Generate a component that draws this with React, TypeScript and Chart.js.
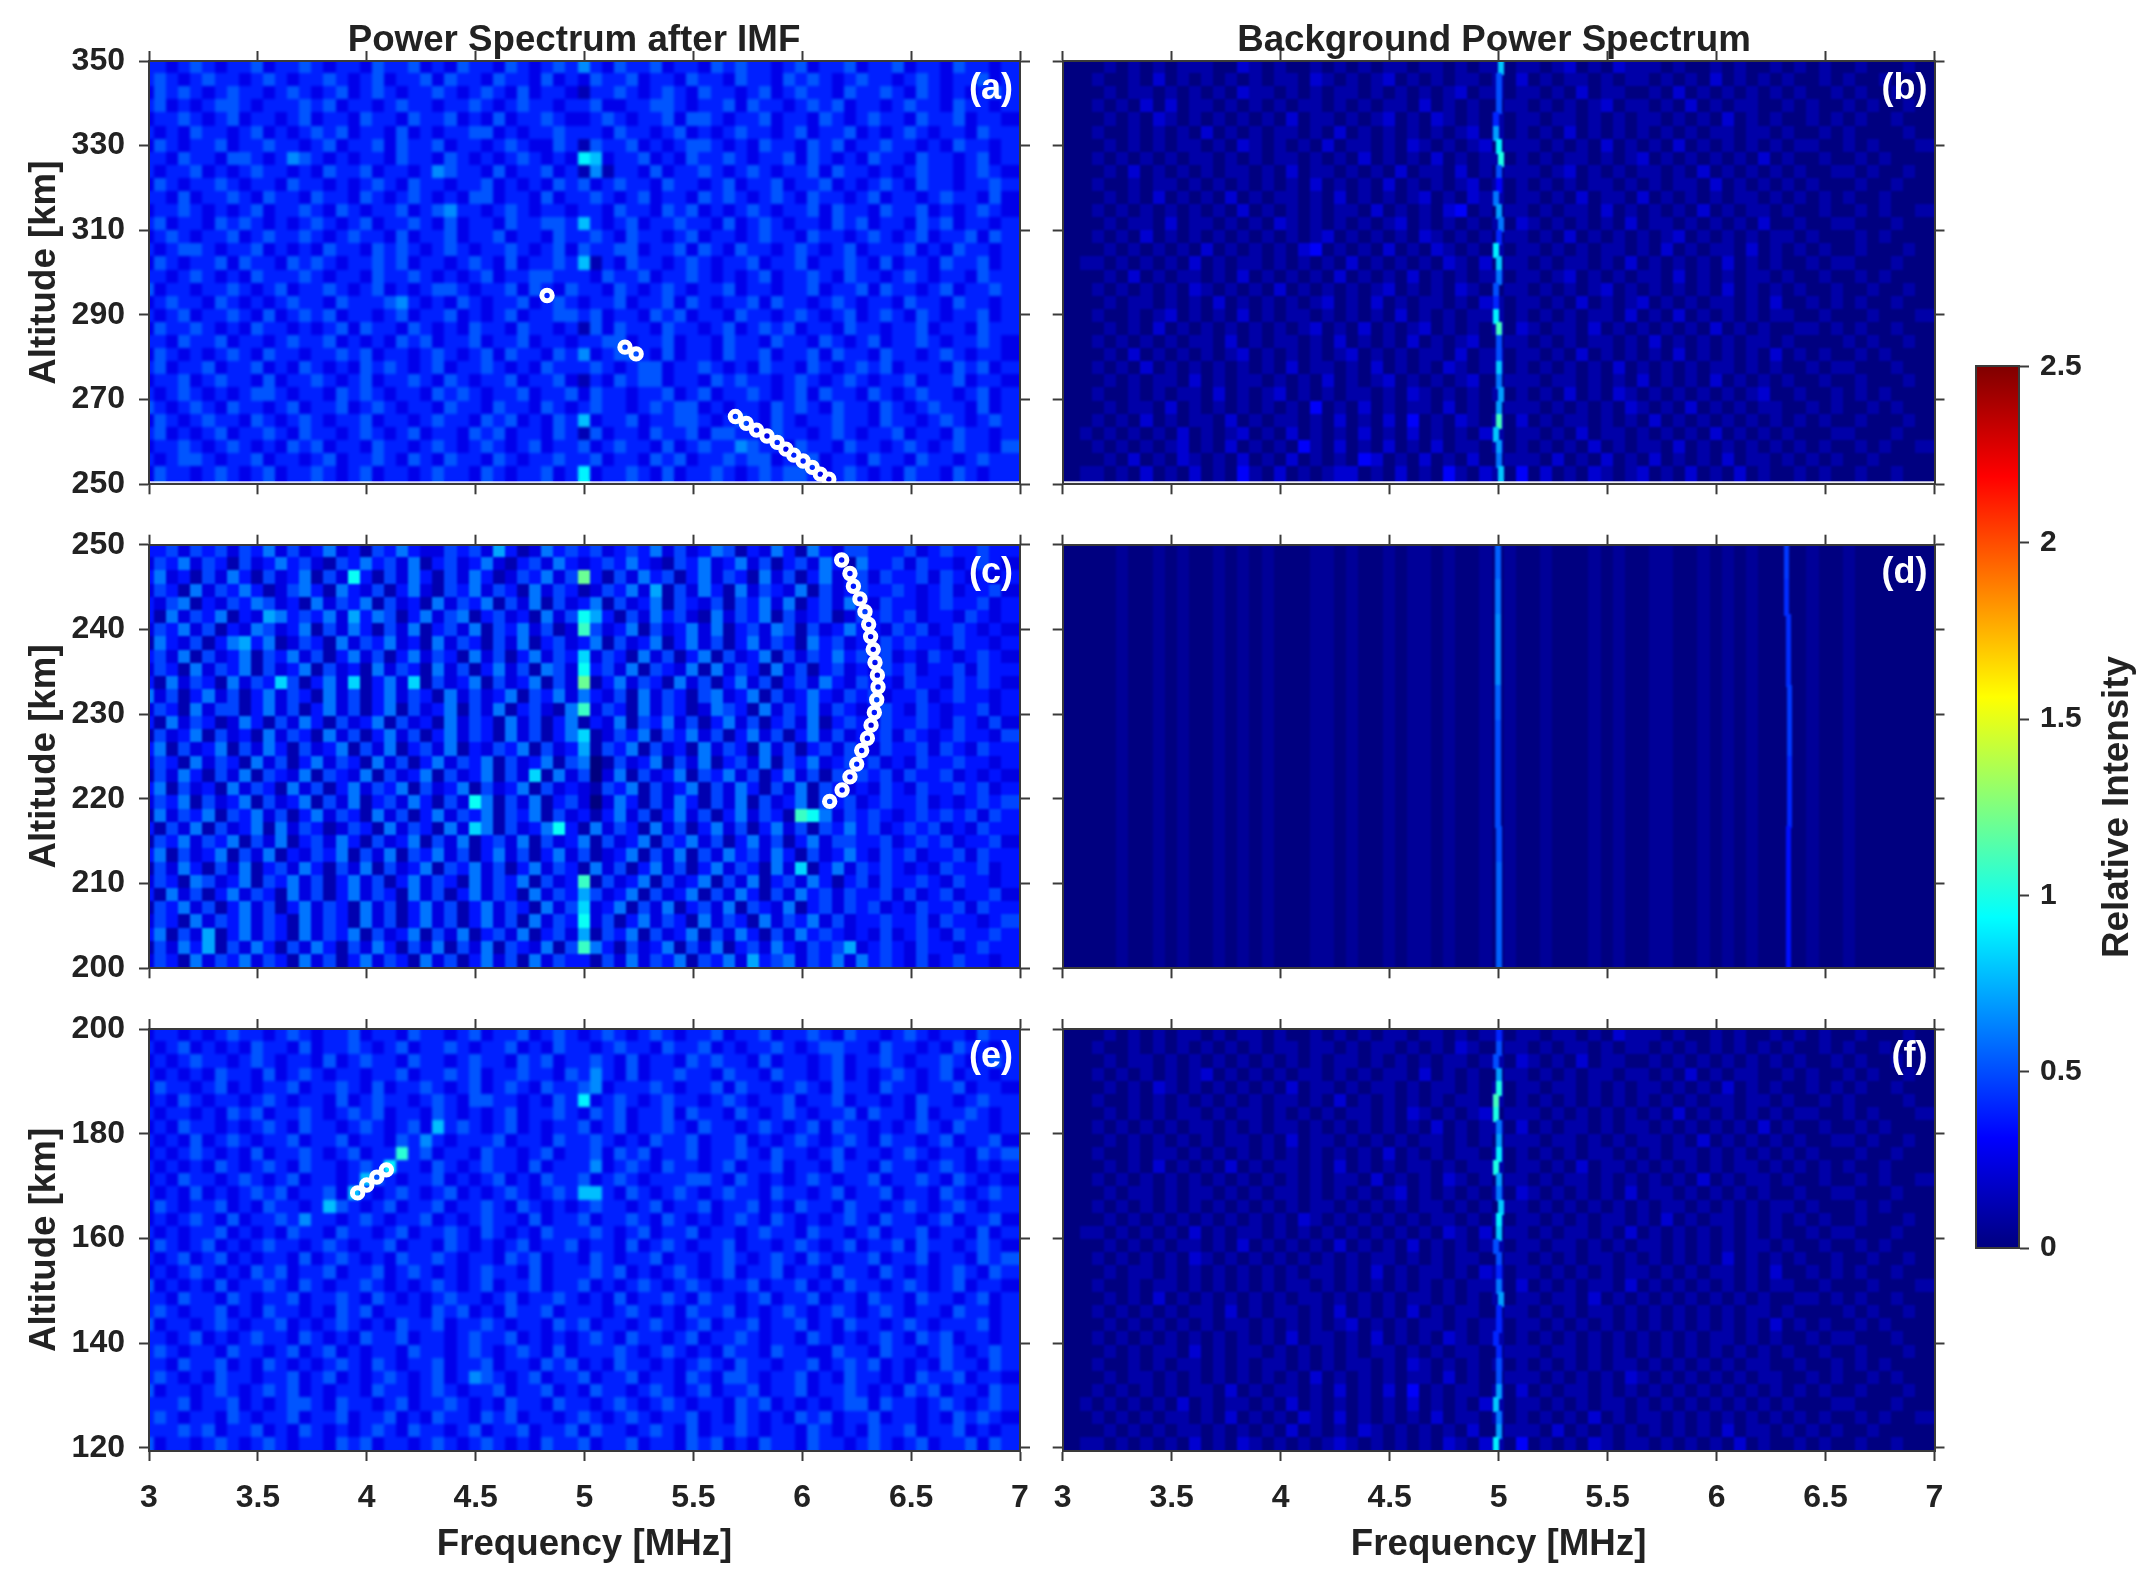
import { useEffect, useRef } from "react";
import { Chart, registerables } from "chart.js";

Chart.register(...registerables);

// axis ticks
const freqTicks = [3, 3.5, 4, 4.5, 5, 5.5, 6, 6.5, 7];
const altTicksTop = [250, 270, 290, 310, 330, 350];
const altTicksMid = [200, 210, 220, 230, 240, 250];
const altTicksLow = [120, 140, 160, 180, 200];
const intensityTicks = [0, 0.5, 1, 1.5, 2, 2.5];

// one hex digit per cell, tenths of relative intensity (a = 1.0, f = 1.5)
const panelARows = [
  "332343233423 343233243342 324332432343 532433423324 343323423342 334233243323",
  "343234332343 233432342334 243324332423 243342332433 243324343234 332343233423",
  "243432343323 432342343233 432343242332 133432343243 323423433243 343243232343",
  "342323443233 343423323433 233432343323 342233443233 424332343423 323433243323",
  "233432342332 342332433243 342324233432 234323342443 233423324323 433243342332",
  "323243323423 234342332423 233442323343 332433234232 343323423342 323432332433",
  "243233423343 323423342433 423323432243 143342323443 232433243423 343323243323",
  "332433244323 543232332433 243232343232 762334232433 432334243232 433243323423",
  "323342323433 232433423323 543324233423 151332423343 234323342433 232343323432",
  "243233432332 433232343243 323342323243 423433243323 423342334232 343243323343",
  "332423343243 324332432343 232442332423 343234233243 432343243323 423323433242",
  "233432323423 343243233423 453323432332 332433243423 234323342433 243342323432",
  "342332434323 234323423343 242332433443 632342334332 423432332434 233243423323",
  "234323342343 343234332423 342334233243 343243323423 323433243323 432342334243",
  "323443233423 232433243432 343233432342 433442334243 243323432342 333423243323",
  "243233424332 434323343423 323432423343 613243323432 334233423343 242332433423",
  "332343232433 343233243343 232342334433 324334233432 323423343243 323432332433",
  "423323343234 233432342323 443233424324 332432343233 423323342334 243323423343",
  "234332432323 433243334532 324323342343 233423342432 334243323432 332433243323",
  "323423343242 343423323423 342323423344 342332434233 243323432342 343243233423",
  "243343232433 232342433243 232433243323 142433243323 423434233243 323342332433",
  "332433423323 433423232434 233423342332 334423342332 433243324323 423343233432",
  "243232343243 323343423323 432342433243 523443242332 433423342433 243323432332",
  "342334233423 243232434323 423343232433 343234423343 232433243234 342333243423",
  "233423433242 334323423343 243233423342 132434423324 343323432343 233423342332",
  "323432323443 233243432332 434323342334 243323342342 334323424332 432343323423",
  "432343243323 423342343233 243324332432 343323434423 233243432433 243234332423",
  "243234332432 343233423323 433243423243 623342334432 343243233433 243323432343",
  "342323423343 243323432342 332434233243 142332433424 433243323432 334233243323",
  "233432343232 434233243323 432343234233 423433242343 354332433243 323432343324",
  "323443233423 323423343243 243324323343 342332434233 434423342332 433243323433",
  "243323432342 334323423323 433243233423 723343242334 323434432343 232433243233",
];

const panelCRows = [
  "334243424352 423523143532 243426312534 342343524235 413253153244 333423433433",
  "243524314235 342143534251 342352134253 234353214352 352413425315 334243323432",
  "352314253142 351428314253 142531243524 a31425341352 431524135234 243342432323",
  "243152435312 453153241352 143524315243 124352614253 152432514234 334323423342",
  "324513243542 315243514231 524351425142 351423514324 143525134253 243323433423",
  "315243513265 343526354135 245134231524 863142534215 243514234124 343423324323",
  "243524132542 351425314251 342514352412 942351423525 134254142353 324342343232",
  "153241356351 243152435231 524314251342 351423513524 135243153423 243433243323",
  "342514235143 524135241352 431524135243 724315241351 423514243534 342324323432",
  "243152435142 351423152431 524135241542 834251432515 243152413423 243423342433",
  "315243152437 413527135271 423514235142 a13524315241 352413425324 332433243432",
  "524135241352 431524135243 152423514352 532415243145 235142353243 423342343323",
  "243152441352 413524135142 351425134215 924315243125 431524352432 343243233423",
  "315243125314 253142351423 152431524135 132514352413 524134251343 243343243242",
  "142351423152 431524135241 352431524135 712435143524 135241352423 342432343324",
  "351423514253 142351425134 251324351423 614351423152 431524134243 243342432433",
  "243152431524 135243152413 524351423514 501423514251 342514352343 423243343323",
  "142531425143 251432514235 142351427152 402514235143 524135241434 342433423232",
  "351423152431 524135243514 235142351423 214351423514 253142514323 243243343423",
  "243514235142 351425134253 142851425134 202531425314 251423514342 343342323434",
  "152435143524 135243152413 524351435142 313524135241 352431985243 432343434243",
  "314251423515 243124315243 152751423583 152431524135 241352414353 423434232433",
  "143524351425 134253142351 425134251423 514235143524 135241352443 342343423342",
  "351423514251 324351425143 524135241352 412351425142 534253142353 243423342433",
  "142531425134 253142514235 143524135243 152413524135 243152713524 343232433423",
  "243154235143 524135241352 431524351423 914235142351 425134253134 243343243323",
  "315241352431 524135243152 413524315243 642351423514 253142534243 342423423342",
  "143524135241 352431524135 241352431524 723514251342 514325134243 423243342433",
  "243152435243 152431524135 241352415243 824135243152 431524352423 343342433234",
  "351426135243 152435142351 425134251342 614351423514 253142534323 242343243343",
  "142536142531 425314253142 514251432514 953142351425 134253243462 343243323433",
  "243152435243 152413524315 241352415243 314252435143 526345243525 343242343323",
];

const panelERows = [
  "233232343323 432334233243 323423342343 234323432334 233423343243 323432332433",
  "323423232433 242334323423 343233423243 323433243342 323343234433 243323243323",
  "232343323432 332423433243 323433243423 343242332434 332423323423 343233432343",
  "323232433242 343233233423 343423343324 353242334332 433243323423 234323423323",
  "243323423233 423343242334 323423432433 452333432334 243323432433 243323342332",
  "232432332343 233242343323 432443323243 723432343323 432334233423 323243323433",
  "323323243423 343234342332 432323423343 243423342433 243234323342 433242334323",
  "232433232343 243323432342 634323423233 423423343243 323432342433 232343243323",
  "323242343233 423342332435 323334233243 343232433423 342323432343 243323423342",
  "232343232423 343234233834 233243323423 342434233423 343243323423 323432332434",
  "323232432343 243323437332 432343324233 352343243323 423342332433 243323432323",
  "232433234323 423323643233 423234232433 423432333443 243232343233 423343243232",
  "323242323434 233426323432 342323432343 663243234323 433243323423 342332432343",
  "243233423243 323643234233 423343243232 343323423342 334232433243 323432343233",
  "232343242334 353323432334 232343324233 423343243232 343243232343 243323423342",
  "323233423232 433243323423 343243232433 343234233423 323433243323 423342332423",
  "243234232343 323432334233 243232342334 233242343233 423323432342 334243323432",
  "323423423233 242343232433 432332434233 243233423323 432343243233 423342332434",
  "232343232434 233423342343 232343324233 343423234323 423342332433 243232343243",
  "423232423343 243233432323 432342334233 423234323432 334233423243 323432342332",
  "332433243233 423343243232 343323423343 232423343243 323423342332 433243323423",
  "343233423243 323243423332 434232433423 332343232433 423234323432 343233243323",
  "423323432334 232343232433 423343233243 423323432342 334233423243 323432333423",
  "332342323433 243232433423 323433423232 343243323423 343233243232 343243423323",
  "343233243323 423423233243 323432343242 333432343232 433243322433 243323432343",
  "332433423243 232343243233 423342332434 232433232343 243323342343 423232433243",
  "343232433233 423423234323 423543234233 423342332432 443233423243 323243342332",
  "423323432343 423233243323 432334233423 243323432342 334233423343 232434233243",
  "333423342323 443243323423 343232433243 323432343233 243423232344 243323432343",
  "343233243233 423342334232 433243423323 432343233423 243232434233 423323243432",
  "333434233423 243232343243 323423342334 243323432423 343233243232 433423342323",
  "423323432343 233243423323 432343232433 423342332434 232433243323 432342334243",
];

const panelBRows = [
  "000010101011 100210100101 010110110101 101101201021 110100101001 010100100010",
  "000100102010 101010110210 101201010110 102010110101 101010201010 100101001000",
  "000010110101 010211010101 101010101201 101101020110 010201010101 010010100100",
  "000101020201 101010101101 010110201010 011010101201 101020101100 101001010010",
  "000010102101 010101020110 101201021010 101101101010 110101020101 001010100100",
  "000100101010 201010110102 010101010120 101010201010 101010110110 100101000010",
  "000010101011 010210101020 110102101012 011101010201 010201010101 011001010001",
  "000101010101 101010110101 020101020101 101010110101 201010101020 100100101000",
  "000010201010 101101020110 101020110201 011101201010 110102010101 010011010010",
  "000100101101 010101010201 010201010120 101010101101 010110201010 101000100100",
  "000010102010 102010110102 010101201021 101101020110 201010101101 010101001000",
  "000101010101 010201010101 102010102301 011010110201 010102010110 100100101001",
  "000010110201 101010210101 010120101010 102101010102 011010101020 010011000100",
  "000101020101 010101010120 101010210101 011010201010 101201010101 101000101000",
  "000010101010 201010102301 010201021010 101101010110 102010110201 010100100010",
  "001101010102 010110101010 201010102102 011010110102 010101020101 001011000100",
  "000010201011 010201010102 010102010101 101101201010 110201010110 100100101000",
  "000101010102 101010201010 101201010210 011010101201 010101020101 010010010010",
  "000010110101 020101010120 102010110102 101101020101 201010110102 001010100100",
  "000100101201 010201011010 101020101011 101010101102 010201010101 100100010001",
  "000010102010 101010101201 020101201010 102101102010 101010201010 011010100100",
  "000101010101 102010110102 010102010120 011010101101 020101010110 100001010010",
  "000010201010 101201010101 201010110201 101101020101 010201010102 010100101000",
  "000101020101 010101020110 102010102101 101010101020 101010110101 001011000100",
  "000010101102 010110101020 101201010120 011101101010 201010201010 100100100010",
  "000100101011 020101201010 110102101010 101010201021 010101010120 010010101000",
  "000010110201 010101010301 020101102010 011101010102 101020101011 001010010100",
  "000101020101 102010110102 010203010210 102010110101 020101010101 010100100010",
  "001010101020 101201020101 020102010102 101101020110 101010201010 100011000100",
  "000101010120 102010103102 010201020110 101010102010 110201010101 010100101001",
  "000010201021 010201020101 032010201020 011102010201 020101020110 101010010000",
  "001101020102 010310201012 201020103102 103020102101 201020102010 010100100100",
];

const panelFRows = [
  "000010101011 010110100101 010110110101 101101101021 110100101001 010100100010",
  "000100101010 101010110110 101101010210 011010110101 101010101010 100101001000",
  "000010110101 010101010101 101010101101 102101020110 010101010101 010010100100",
  "000101010101 201010101101 010110201010 011010101101 101020101100 101001010010",
  "000010102101 010101020110 101101011010 101101101010 110101020101 001010100100",
  "000100101010 101010110102 010101010110 101010101010 101010110110 100101000010",
  "000010101011 010110101010 110102101012 011101010101 010201010101 011001010001",
  "000101010101 101010110101 010101020101 102010110101 101010101020 100100101000",
  "000010101010 101101020110 101010110101 011101101010 110102010101 010011010010",
  "000100101101 010101010101 010201010110 101010101101 010110101010 101000100100",
  "000010102010 102010110102 010101101011 101101020110 101010101101 010101001000",
  "000101010101 010101010101 102010102101 011010110101 010102010110 100100101001",
  "000010110101 101010110101 010120101010 102101010102 011010101010 010011000100",
  "000101010101 010101010110 101010110101 011010101010 101101010101 101000101000",
  "000010101010 101010102101 010101011010 101101010110 102010110101 010100100010",
  "001101010102 010110101010 101010102102 011010110102 010101010101 001011000100",
  "000010101011 010201010102 010102010101 101101101010 110101010110 100100101000",
  "000101010102 101010101010 101101010110 011010101101 010101020101 010010010010",
  "000010110101 010101010110 102010110102 101101010101 101010110102 001010100100",
  "000100101101 010101011010 101010101011 102010101102 010101010101 100100010001",
  "000010102010 101010101101 010101101010 101101102010 101010101010 011010100100",
  "000101010101 102010110102 010102010110 011010101101 010101010110 100001010010",
  "000010101010 101101010101 201010110101 101101010101 010101010102 010100101000",
  "000101010101 010101020110 102010102101 101010101010 101010110101 001011000100",
  "000010101102 010110101010 101101010110 011101101010 101010101010 100100100010",
  "000100101011 010101101010 110102101010 101010101011 010101010110 010010101000",
  "000010110101 010101010201 010101102010 011101010102 101010101011 001010010100",
  "000101010101 102010110102 010203010110 102010110101 010101010101 010100100010",
  "001010101020 101101020101 010102010102 101101010110 101010101010 100011000100",
  "000101010110 102010102102 010101020110 101010102010 110101010101 010100101001",
  "000010101011 010101020101 021010101020 011102010101 010101020110 101010010000",
  "001101010102 010210101012 101010102102 103010102101 101010102010 010100100100",
];

const panelDRows = ["000001001010 010101000110 100101101001 010010001010 011001010100 001001000000"];

// bright line near 5 MHz, top row first
const panelBLineFreq = [5.01, 5.0, 5.0, 5.0, 4.99, 4.99, 5.0, 5.01, 5.0, 5.0, 4.99, 5.0, 5.01, 5.0, 4.99, 5.0, 5.0, 4.99, 4.99, 4.99, 5.0, 5.0, 5.0, 5.0, 5.0, 5.01, 5.0, 5.0, 4.99, 5.0, 5.0, 5.01];
const panelBLineValues = [0.8, 0.5, 0.5, 0.5, 0.4, 0.7, 0.9, 1.0, 0.5, 0.3, 0.6, 0.7, 0.6, 0.4, 0.9, 0.8, 0.6, 0.5, 0.4, 0.9, 1.1, 0.5, 0.5, 0.8, 0.6, 0.7, 0.7, 1.1, 0.8, 0.7, 0.6, 0.8];
const panelFLineFreq = [5.0, 5.0, 4.99, 5.0, 5.0, 4.99, 4.99, 5.0, 5.0, 5.0, 4.99, 5.0, 5.0, 5.01, 5.0, 5.0, 4.99, 5.0, 5.0, 5.0, 5.01, 5.0, 5.0, 4.99, 5.0, 5.0, 5.0, 5.0, 4.99, 5.0, 5.0, 4.99];
const panelFLineValues = [0.4, 0.5, 0.5, 0.7, 1.0, 1.1, 1.0, 0.6, 0.7, 0.9, 1.0, 0.7, 0.6, 0.8, 0.9, 0.8, 0.5, 0.5, 0.4, 0.6, 0.7, 0.4, 0.4, 0.4, 0.4, 0.5, 0.5, 0.7, 0.8, 0.6, 0.7, 0.9];
const panelDLine5Freq = [4.995, 4.995, 4.995, 4.995, 4.995, 4.998, 4.998, 4.998, 5.0, 5.0, 5.0, 5.0];
const panelDLine5Values = [0.55, 0.6, 0.65, 0.65, 0.55, 0.5, 0.5, 0.5, 0.5, 0.55, 0.55, 0.55];
const panelDLine6Freq = [6.32, 6.32, 6.33, 6.33, 6.335, 6.335, 6.335, 6.335, 6.33, 6.33, 6.33, 6.33];
const panelDLine6Values = [0.45, 0.42, 0.42, 0.42, 0.45, 0.45, 0.4, 0.4, 0.35, 0.35, 0.35, 0.35];

// detected trace markers
const ringsAFreq = [4.828, 5.186, 5.237, 5.693, 5.743, 5.79, 5.838, 5.885, 5.925, 5.961, 6.004, 6.046, 6.083, 6.122];
const ringsAAlt = [294.6, 282.4, 280.8, 266, 264.4, 262.8, 261.4, 259.9, 258.3, 256.9, 255.5, 254, 252.4, 251.2];
const ringsCFreq = [6.181, 6.219, 6.235, 6.265, 6.288, 6.305, 6.314, 6.326, 6.334, 6.345, 6.348, 6.342, 6.331, 6.316, 6.299, 6.273, 6.25, 6.219, 6.183, 6.126];
const ringsCAlt = [248.2, 246.6, 245.1, 243.6, 242.1, 240.6, 239.15, 237.65, 236.1, 234.6, 233.2, 231.7, 230.2, 228.7, 227.15, 225.7, 224.1, 222.6, 221.05, 219.7];
const ringsEFreq = [3.958, 4.0, 4.046, 4.09];
const ringsEAlt = [168.7, 170.2, 171.7, 173.1];

const jetStops: [number, string][] = [
  [0, "#000080"],
  [0.3125, "#0000ff"],
  [0.9375, "#00ffff"],
  [1.5625, "#ffff00"],
  [2.1875, "#ff0000"],
  [2.5, "#800000"],
];

const AXIS_COLOR = "#3a3a3a";
const TEXT_COLOR = "#222222";
const FONT_FAMILY = "'Liberation Sans', Arial, sans-serif";

const clamp01 = (v: number) => Math.min(1, Math.max(0, v));

function jetColor(v: number) {
  const t = clamp01(v / 2.5);
  const r = clamp01(1.5 - Math.abs(4 * t - 3));
  const g = clamp01(1.5 - Math.abs(4 * t - 2));
  const b = clamp01(1.5 - Math.abs(4 * t - 1));
  return `rgb(${Math.round(r * 255)},${Math.round(g * 255)},${Math.round(b * 255)})`;
}

// small coloured canvases used as the point style of each heatmap cell
const sprites = new Map<string, HTMLCanvasElement>();
function cellSprite(v: number, w: number, h: number) {
  const key = `${v}/${w}/${h}`;
  let sprite = sprites.get(key);
  if (!sprite) {
    sprite = document.createElement("canvas");
    sprite.width = Math.ceil(w) + 1;
    sprite.height = Math.ceil(h) + 1;
    const ctx = sprite.getContext("2d")!;
    ctx.fillStyle = jetColor(v);
    ctx.fillRect(0, 0, sprite.width, sprite.height);
    sprites.set(key, sprite);
  }
  return sprite;
}

type Line = { freq: number[]; values: number[]; width: number };
type Box = { l: number; t: number; r: number; b: number };
type PanelDef = {
  label: string;
  rows: string[];
  gain: number;
  lines: Line[];
  ringFreq?: number[];
  ringAlt?: number[];
  yMin: number;
  yMax: number;
  gridBottom: number;
  yTicks: number[];
  plot: Box;
  canvas: Box;
  showX: boolean;
  showY: boolean;
  blur: number;
  title?: { text: string; x: number };
};

const leftX = { l: 149, r: 1020 };
const rightX = { l: 1062.7, r: 1934.5 };
// canvases overlap a bit, they are transparent and chart.js needs room around the tick labels
const leftCanvasX = { l: 0, r: 1060 };
const rightCanvasX = { l: 1020, r: 1980 };
const rowTop = { plotT: 61, plotB: 484.3, canT: 0, canB: 560 };
const rowMid = { plotT: 544.7, plotB: 968.3, canT: 480, canB: 1020 };
const rowLow = { plotT: 1029, plotB: 1451, canT: 960, canB: 1593 };

const box = (x: { l: number; r: number }, t: number, b: number): Box => ({ l: x.l, r: x.r, t, b });

const panels: PanelDef[] = [
  {
    label: "(a)", rows: panelARows, gain: 1.3, lines: [], ringFreq: ringsAFreq, ringAlt: ringsAAlt,
    yMin: 250, yMax: 350, gridBottom: 251, yTicks: altTicksTop,
    plot: box(leftX, rowTop.plotT, rowTop.plotB), canvas: box(leftCanvasX, rowTop.canT, rowTop.canB),
    showX: false, showY: true, blur: 1.8, title: { text: "Power Spectrum after IMF", x: 574 },
  },
  {
    label: "(b)", rows: panelBRows, gain: 1, lines: [{ freq: panelBLineFreq, values: panelBLineValues, width: 5 }],
    yMin: 250, yMax: 350, gridBottom: 251, yTicks: altTicksTop,
    plot: box(rightX, rowTop.plotT, rowTop.plotB), canvas: box(rightCanvasX, rowTop.canT, rowTop.canB),
    showX: false, showY: false, blur: 1.2, title: { text: "Background Power Spectrum", x: 1494 },
  },
  {
    label: "(c)", rows: panelCRows, gain: 1.2, lines: [], ringFreq: ringsCFreq, ringAlt: ringsCAlt,
    yMin: 200, yMax: 250, gridBottom: 200, yTicks: altTicksMid,
    plot: box(leftX, rowMid.plotT, rowMid.plotB), canvas: box(leftCanvasX, rowMid.canT, rowMid.canB),
    showX: false, showY: true, blur: 1.2,
  },
  {
    label: "(d)", rows: panelDRows, gain: 0.6,
    lines: [
      { freq: panelDLine5Freq, values: panelDLine5Values, width: 5 },
      { freq: panelDLine6Freq, values: panelDLine6Values, width: 4 },
    ],
    yMin: 200, yMax: 250, gridBottom: 200, yTicks: altTicksMid,
    plot: box(rightX, rowMid.plotT, rowMid.plotB), canvas: box(rightCanvasX, rowMid.canT, rowMid.canB),
    showX: false, showY: false, blur: 0.8,
  },
  {
    label: "(e)", rows: panelERows, gain: 1.3, lines: [], ringFreq: ringsEFreq, ringAlt: ringsEAlt,
    yMin: 119.4, yMax: 200, gridBottom: 119.4, yTicks: altTicksLow,
    plot: box(leftX, rowLow.plotT, rowLow.plotB), canvas: box(leftCanvasX, rowLow.canT, rowLow.canB),
    showX: true, showY: true, blur: 1.8,
  },
  {
    label: "(f)", rows: panelFRows, gain: 1, lines: [{ freq: panelFLineFreq, values: panelFLineValues, width: 5 }],
    yMin: 119.4, yMax: 200, gridBottom: 119.4, yTicks: altTicksLow,
    plot: box(rightX, rowLow.plotT, rowLow.plotB), canvas: box(rightCanvasX, rowLow.canT, rowLow.canB),
    showX: true, showY: false, blur: 1.2,
  },
];

type TextItem = { text: string; x: number; y: number; font: string; color: string; align: CanvasTextAlign; rotate?: number };

const textPlugin = (items: TextItem[]) => ({
  id: "panelText",
  afterDraw(chart: any) {
    const ctx = chart.ctx;
    items.forEach((it) => {
      ctx.save();
      ctx.translate(it.x, it.y);
      if (it.rotate) ctx.rotate(it.rotate);
      ctx.font = it.font;
      ctx.fillStyle = it.color;
      ctx.textAlign = it.align;
      ctx.textBaseline = "alphabetic";
      ctx.fillText(it.text, 0, 0);
      ctx.restore();
    });
  },
});

// softens the heatmap once its last layer is drawn, the source image is smeared like this
const blurPlugin = (amount: number) => ({
  id: "heatBlur",
  afterDatasetDraw(chart: any, args: any) {
    if (!chart.data.datasets[args.index].blurAfter) return;
    const { ctx, canvas, chartArea: a } = chart;
    ctx.save();
    ctx.beginPath();
    ctx.rect(a.left, a.top, a.right - a.left, a.bottom - a.top);
    ctx.clip();
    ctx.filter = `blur(${amount}px)`;
    ctx.drawImage(canvas, 0, 0);
    ctx.restore();
  },
});

function axisBase() {
  return {
    grid: { drawOnChartArea: false, drawTicks: true, tickLength: 10, tickWidth: 2, tickColor: AXIS_COLOR, z: 1 },
    border: { display: true, color: AXIS_COLOR, width: 2, z: 1 },
  };
}

function buildPanelConfig(p: PanelDef) {
  const plotW = p.plot.r - p.plot.l;
  const plotH = p.plot.b - p.plot.t;
  const pxPerKm = plotH / (p.yMax - p.yMin);

  // heatmap cells from the digit rows, column 36 sits on 5 MHz
  const cleanRows = p.rows.map((r) => r.replace(/ /g, ""));
  const nRows = cleanRows.length;
  const nCols = cleanRows[0].length;
  const rowKm = (p.yMax - p.gridBottom) / nRows;
  const cells: any[] = [];
  cleanRows.forEach((row, r) => {
    const y = p.yMax - (r + 0.5) * rowKm;
    row.split("").forEach((ch, c) => {
      cells.push({ x: 3 + (c * 4) / nCols, y, v: (parseInt(ch, 16) / 10) * p.gain });
    });
    // last column is repeated so the half cell at 7 MHz is covered too
    cells.push({ x: 7, y, v: (parseInt(row[nCols - 1], 16) / 10) * p.gain });
  });
  const cellW = plotW / nCols;
  const cellH = rowKm * pxPerKm;

  const datasets: any[] = [
    {
      label: "cells",
      data: cells,
      pointStyle: (c: any) => cellSprite(c.raw.v, cellW, cellH),
      pointRadius: 1,
      pointHoverRadius: 1,
      order: 5,
      blurAfter: p.lines.length === 0,
    },
  ];

  p.lines.forEach((line, i) => {
    const segKm = (p.yMax - p.gridBottom) / line.values.length;
    const segH = segKm * pxPerKm;
    datasets.push({
      label: `line ${i}`,
      data: line.values.map((v, r) => ({ x: line.freq[r], y: p.yMax - (r + 0.5) * segKm, v })),
      pointStyle: (c: any) => cellSprite(c.raw.v, line.width, segH),
      pointRadius: 1,
      pointHoverRadius: 1,
      order: 4 - i,
      blurAfter: i === p.lines.length - 1,
    });
  });

  if (p.ringFreq && p.ringAlt) {
    const alts = p.ringAlt;
    datasets.push({
      label: "trace",
      data: p.ringFreq.map((f, i) => ({ x: f, y: alts[i] })),
      pointStyle: "circle",
      pointRadius: 5.2,
      pointHoverRadius: 5.2,
      pointBorderWidth: 5,
      pointBorderColor: "#ffffff",
      pointBackgroundColor: "rgba(0,0,0,0)",
      order: 0,
    });
  }

  const texts: TextItem[] = [
    {
      text: p.label,
      x: p.plot.r - 7 - p.canvas.l,
      y: p.plot.t + 38 - p.canvas.t,
      font: `bold 36px ${FONT_FAMILY}`,
      color: "#ffffff",
      align: "right",
    },
  ];
  if (p.title) {
    texts.push({
      text: p.title.text,
      x: p.title.x - p.canvas.l,
      y: 51 - p.canvas.t,
      font: `bold 36.7px ${FONT_FAMILY}`,
      color: TEXT_COLOR,
      align: "center",
    });
  }

  const sizeLeft = p.plot.l - p.canvas.l;
  const sizeRight = p.canvas.r - p.plot.r;
  const sizeTop = p.plot.t - p.canvas.t;
  const sizeBottom = p.canvas.b - p.plot.b;
  const tickFont = { family: FONT_FAMILY, size: 32, weight: "bold" as const };
  const titleFont = { family: FONT_FAMILY, size: 36.7, weight: "bold" as const };

  return {
    type: "scatter" as const,
    data: { datasets },
    plugins: [blurPlugin(p.blur), textPlugin(texts)],
    options: {
      animation: false as const,
      responsive: false,
      devicePixelRatio: 1,
      layout: { padding: 0 },
      events: [],
      plugins: { legend: { display: false }, tooltip: { enabled: false }, title: { display: false } },
      scales: {
        x: {
          ...axisBase(),
          type: "linear" as const,
          position: "bottom" as const,
          min: 3,
          max: 7,
          afterBuildTicks: (s: any) => { s.ticks = freqTicks.map((value) => ({ value })); },
          afterFit: (s: any) => { s.height = sizeBottom; },
          ticks: { display: p.showX, font: tickFont, color: TEXT_COLOR, padding: 18, maxRotation: 0, autoSkip: false, callback: (v: any) => String(v) },
          title: { display: p.showX, text: "Frequency [MHz]", font: titleFont, color: TEXT_COLOR, padding: { top: 26, bottom: 26 } },
        },
        x2: {
          ...axisBase(),
          type: "linear" as const,
          position: "top" as const,
          min: 3,
          max: 7,
          afterBuildTicks: (s: any) => { s.ticks = freqTicks.map((value) => ({ value })); },
          afterFit: (s: any) => { s.height = sizeTop; },
          ticks: { display: false },
        },
        y: {
          ...axisBase(),
          type: "linear" as const,
          position: "left" as const,
          min: p.yMin,
          max: p.yMax,
          afterBuildTicks: (s: any) => { s.ticks = p.yTicks.map((value) => ({ value })); },
          afterFit: (s: any) => { s.width = sizeLeft; },
          ticks: { display: p.showY, font: tickFont, color: TEXT_COLOR, padding: 14, autoSkip: false, callback: (v: any) => String(v) },
          title: { display: p.showY, text: "Altitude [km]", font: titleFont, color: TEXT_COLOR, padding: { top: 23, bottom: 0 } },
        },
        y2: {
          ...axisBase(),
          type: "linear" as const,
          position: "right" as const,
          min: p.yMin,
          max: p.yMax,
          afterBuildTicks: (s: any) => { s.ticks = p.yTicks.map((value) => ({ value })); },
          afterFit: (s: any) => { s.width = sizeRight; },
          ticks: { display: false },
        },
      },
    },
  };
}

function PanelChart({ panel }: { panel: PanelDef }) {
  const canvasRef = useRef<HTMLCanvasElement>(null);

  useEffect(() => {
    if (!canvasRef.current) return;
    const chart = new Chart(canvasRef.current, buildPanelConfig(panel) as any);
    return () => chart.destroy();
  }, [panel]);

  return (
    <canvas
      ref={canvasRef}
      width={panel.canvas.r - panel.canvas.l}
      height={panel.canvas.b - panel.canvas.t}
      style={{ position: "absolute", left: panel.canvas.l, top: panel.canvas.t }}
    />
  );
}

const barCanvas = { l: 1960, t: 310, r: 2155, b: 1310 };
const barPlot = { l: 1976, t: 366.4, r: 2019, b: 1248 };

function ColorBar() {
  const canvasRef = useRef<HTMLCanvasElement>(null);

  useEffect(() => {
    if (!canvasRef.current) return;
    const hideTicks = { display: false };
    const noTickAxis = {
      grid: { drawOnChartArea: false, drawTicks: false },
      border: { display: true, color: AXIS_COLOR, width: 2, z: 1 },
      ticks: hideTicks,
    };
    const chart = new Chart(canvasRef.current, {
      type: "bar",
      data: {
        labels: ["Relative Intensity"],
        datasets: [
          {
            data: [[0, 2.5]],
            barPercentage: 1,
            categoryPercentage: 1,
            backgroundColor: (c: any) => {
              const a = c.chart.chartArea;
              if (!a) return "#0000ff";
              const y = c.chart.scales.y;
              const g = c.chart.ctx.createLinearGradient(0, y.getPixelForValue(0), 0, y.getPixelForValue(2.5));
              jetStops.forEach(([v, col]) => g.addColorStop(v / 2.5, col));
              return g;
            },
          },
        ],
      },
      plugins: [
        textPlugin([
          {
            text: "Relative Intensity",
            x: 2128 - barCanvas.l,
            y: 807 - barCanvas.t,
            font: `bold 36.7px ${FONT_FAMILY}`,
            color: TEXT_COLOR,
            align: "center",
            rotate: -Math.PI / 2,
          },
        ]),
      ],
      options: {
        animation: false,
        responsive: false,
        devicePixelRatio: 1,
        layout: { padding: 0 },
        events: [],
        plugins: { legend: { display: false }, tooltip: { enabled: false } },
        scales: {
          x: { ...noTickAxis, afterFit: (s: any) => { s.height = barCanvas.b - barPlot.b; } },
          x2: { ...noTickAxis, type: "linear", position: "top", min: 0, max: 1, afterFit: (s: any) => { s.height = barPlot.t - barCanvas.t; } },
          y: {
            ...axisBase(),
            type: "linear",
            position: "right",
            min: 0,
            max: 2.5,
            afterBuildTicks: (s: any) => { s.ticks = intensityTicks.map((value) => ({ value })); },
            afterFit: (s: any) => { s.width = barCanvas.r - barPlot.r; },
            ticks: { font: { family: FONT_FAMILY, size: 30, weight: "bold" }, color: TEXT_COLOR, padding: 11, callback: (v: any) => String(v) },
          },
          y2: { ...noTickAxis, type: "linear", position: "left", min: 0, max: 2.5, afterFit: (s: any) => { s.width = barPlot.l - barCanvas.l; } },
        },
      },
    } as any);
    return () => chart.destroy();
  }, []);

  return (
    <canvas
      ref={canvasRef}
      width={barCanvas.r - barCanvas.l}
      height={barCanvas.b - barCanvas.t}
      style={{ position: "absolute", left: barCanvas.l, top: barCanvas.t }}
    />
  );
}

export default function App() {
  useEffect(() => {
    document.body.style.margin = "0";
    document.body.style.background = "#ffffff";
  }, []);

  return (
    <div style={{ position: "relative", width: 2155, height: 1593, overflow: "hidden" }}>
      {panels.map((p) => (
        <PanelChart key={p.label} panel={p} />
      ))}
      <ColorBar />
    </div>
  );
}
